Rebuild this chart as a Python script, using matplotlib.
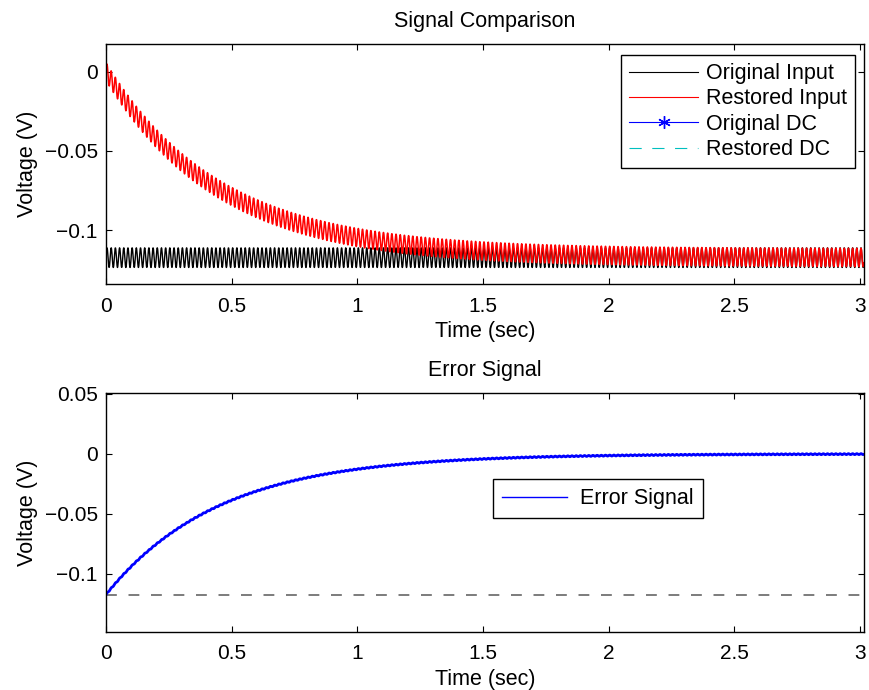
import numpy as np
import matplotlib
matplotlib.use("Agg")
import matplotlib.pyplot as plt
from matplotlib.ticker import FuncFormatter

# values
fs = 1000              # samples per second
duration = 3.016       # sec
dc_offset = -0.1172    # V, DC level of the original input
ripple_amp = 0.0062    # V, amplitude of the 60 Hz ripple
ripple_freq = 60       # Hz
tau = 0.45             # sec, decay time of the restoration error
residual_amp = 0.0004  # V, ripple left in the error signal

xticks = [0, 0.5, 1, 1.5, 2, 2.5, 3]
top_yticks = [0, -0.05, -0.1]
bottom_yticks = [0.05, 0, -0.05, -0.1]
top_ylim = (-0.1338, 0.0176)
bottom_ylim = (-0.1483, 0.0508)

t = np.arange(0, duration, 1 / fs)
ripple = np.sin(2 * np.pi * ripple_freq * t)
original = dc_offset + ripple_amp * ripple
error = dc_offset * np.exp(-t / tau) + residual_amp * ripple
restored = original - error

plt.rcParams["font.family"] = ["Liberation Sans", "DejaVu Sans"]
plt.rcParams["font.size"] = 15.5
plt.rcParams["axes.titlesize"] = 15.5


def fmt(v, pos):
    return f"{v:g}".replace("-", "\u2212")


def style_axes(ax, yticks, ylim):
    ax.set_xlim(0, duration)
    ax.set_ylim(*ylim)
    ax.set_xticks(xticks)
    ax.set_yticks(yticks)
    ax.xaxis.set_major_formatter(FuncFormatter(fmt))
    ax.yaxis.set_major_formatter(FuncFormatter(fmt))
    ax.tick_params(direction="in", top=True, right=True, length=4, width=0.8,
                   pad=6, labelsize=15)
    ax.tick_params(axis="x", pad=9)
    for s in ax.spines.values():
        s.set_linewidth(1.0)
    ax.set_xlabel("Time (sec)", labelpad=4)
    ax.set_ylabel("Voltage (V)", labelpad=5)


fig = plt.figure(figsize=(8.7, 6.9), dpi=100)

# Signal comparison
ax1 = fig.add_axes([0.1218, 0.5884, 0.8713, 0.3483])
ax1.plot(t, original, color="k", lw=1.0, label="Original Input")
ax1.plot(t, restored, color="r", lw=1.1, label="Restored Input")
ax1.plot([], [], color="b", lw=0.8, marker=(6, 2, 0), markersize=9,
         label="Original DC")
ax1.plot([], [], color="c", lw=0.9, ls=(0, (11, 9.5)), label="Restored DC")
style_axes(ax1, top_yticks, top_ylim)
ax1.set_title("Signal Comparison", pad=12)
leg1 = ax1.legend(loc="upper right", bbox_to_anchor=(0.988, 0.953),
                  fancybox=False, framealpha=1, edgecolor="k",
                  handlelength=3.2, handletextpad=0.35, labelspacing=0.2,
                  borderpad=0.38, borderaxespad=0)
leg1.get_frame().set_linewidth(1.0)
for line in leg1.get_lines():
    line.set_linewidth(0.8)

# Error signal
ax2 = fig.add_axes([0.1218, 0.0841, 0.8713, 0.3464])
ax2.axhline(dc_offset, color="0.4", lw=1.2, ls=(0, (6.5, 7)))
ax2.plot(t, error, color="b", lw=2.0, label="Error Signal")
style_axes(ax2, bottom_yticks, bottom_ylim)
ax2.set_title("Error Signal", pad=12)
handles, labels = ax2.get_legend_handles_labels()
leg2 = ax2.legend(handles, labels, loc="upper left", bbox_to_anchor=(0.511, 0.640),
                  fancybox=False, framealpha=1, edgecolor="k",
                  handlelength=3.0, handletextpad=0.6,
                  borderpad=0.42, borderaxespad=0)
leg2.get_frame().set_linewidth(1.0)
leg2.get_lines()[0].set_linewidth(1.0)

fig.savefig("out.png", dpi=100)
